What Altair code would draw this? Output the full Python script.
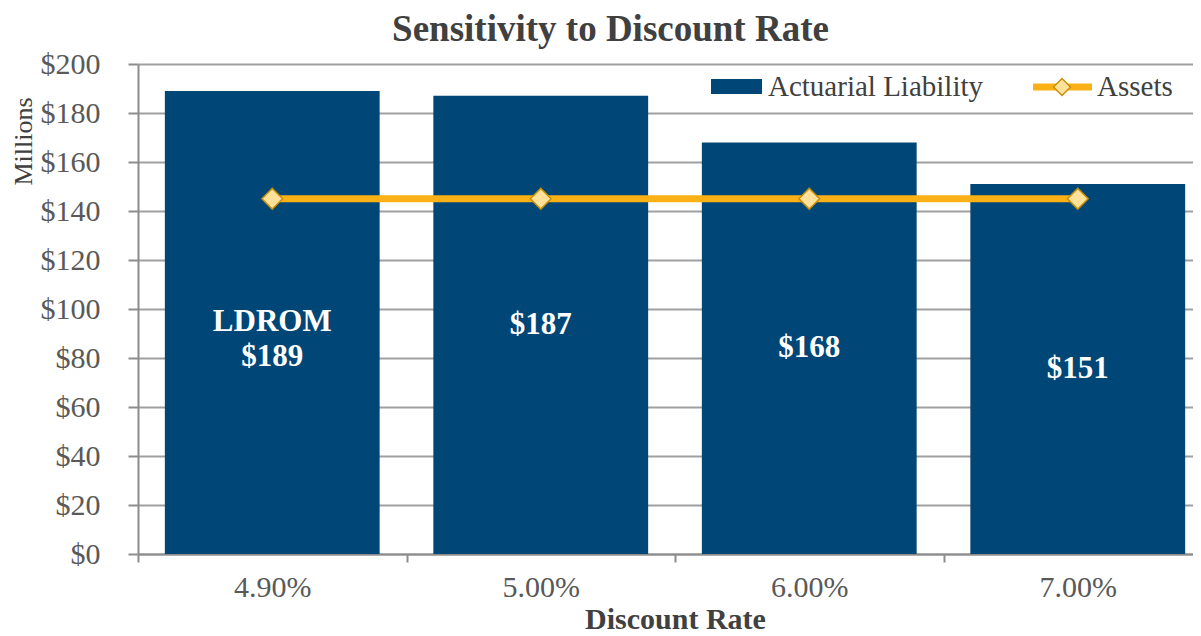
import altair as alt
import pandas as pd

# ---- data ----
rates = ["4.90%", "5.00%", "6.00%", "7.00%"]
liability = [189, 187, 168, 151]
assets = [145, 145, 145, 145]
bar_labels = ["LDROM\n$189", "$187", "$168", "$151"]
y_ticks = [0, 20, 40, 60, 80, 100, 120, 140, 160, 180, 200]
legend_names = ["Actuarial Liability", "Assets"]

FONT = "Liberation Serif"
BAR = "#004676"
GOLD = "#F9B116"
DIAMOND_FILL = "#FFE19A"
DIAMOND_STROKE = "#C8900A"
GRID = "#A0A0A0"
AXIS = "#8C8C8C"
LABEL = "#595959"
TITLE = "#404040"

df = pd.DataFrame({"rate": rates, "liability": liability, "assets": assets, "label": bar_labels})
one = pd.DataFrame({"k": [0]})

x_enc = alt.X(
    "rate:N",
    sort=rates,
    scale=alt.Scale(range=[0, 1074], paddingInner=0, paddingOuter=0),
    axis=alt.Axis(
        title="Discount Rate",
        labelAngle=0,
        labelFont=FONT,
        labelFontSize=30,
        labelColor=LABEL,
        labelPadding=10,
        tickBand="extent",
        tickSize=8,
        tickColor=AXIS,
        tickWidth=2,
        domainColor=AXIS,
        domainWidth=2,
        grid=False,
        titleFont=FONT,
        titleFontSize=30,
        titleFontWeight="bold",
        titleColor=TITLE,
        titleBaseline="alphabetic",
        titleY=74,
    ),
)

y_enc = alt.Y(
    "liability:Q",
    scale=alt.Scale(domain=[0, 200], nice=False),
    axis=alt.Axis(
        values=y_ticks,
        labelExpr="'$' + datum.value",
        labelFont=FONT,
        labelFontSize=30,
        labelColor=LABEL,
        labelPadding=28,
        tickSize=10,
        tickColor=AXIS,
        tickWidth=2,
        domainColor=AXIS,
        domainWidth=2,
        grid=True,
        gridColor=GRID,
        gridWidth=2,
        title="Millions",
        titleFont=FONT,
        titleFontSize=26,
        titleFontWeight="normal",
        titleColor=TITLE,
        titleAngle=270,
        titleAlign="center",
        titleBaseline="middle",
        titleX=-115,
        titleY=77,
    ),
)

base = alt.Chart(df)

bars = base.mark_bar(color=BAR, width=alt.RelativeBandSize(0.8)).encode(x=x_enc, y=y_enc)

line = base.mark_line(color=GOLD, strokeWidth=7).encode(x=alt.X("rate:N", sort=rates), y=alt.Y("assets:Q"))
points = base.mark_point(
    shape="diamond", size=430, fill=DIAMOND_FILL, stroke=DIAMOND_STROKE,
    strokeWidth=1.5, fillOpacity=1, opacity=1
).encode(x=alt.X("rate:N", sort=rates), y=alt.Y("assets:Q"))

labels = base.transform_calculate(mid="datum.liability / 2").mark_text(
    font=FONT, fontSize=31, fontWeight="bold", color="white",
    lineBreak="\n", lineHeight=35, baseline="middle", align="center"
).encode(x=alt.X("rate:N", sort=rates), y=alt.Y("mid:Q"), text="label:N")

# ---- legend (inside top right) ----
leg = alt.Chart(one)
leg_rect = leg.mark_rect(color=BAR).encode(
    x=alt.value(573), x2=alt.value(624), y=alt.value(15), y2=alt.value(30)
)
leg_text1 = leg.mark_text(
    font=FONT, fontSize=29, color=TITLE, align="left", baseline="alphabetic",
    text=legend_names[0]
).encode(x=alt.value(630), y=alt.value(32))
leg_line = leg.mark_rule(color=GOLD, strokeWidth=7).encode(
    x=alt.value(895), x2=alt.value(954), y=alt.value(23)
)
leg_pt = leg.mark_point(
    shape="diamond", size=290, fill=DIAMOND_FILL, stroke=DIAMOND_STROKE,
    strokeWidth=1.5, fillOpacity=1, opacity=1
).encode(x=alt.value(924), y=alt.value(23))
leg_text2 = leg.mark_text(
    font=FONT, fontSize=29, color=TITLE, align="left", baseline="alphabetic",
    text=legend_names[1]
).encode(x=alt.value(959), y=alt.value(32))

chart = alt.layer(
    bars, line, points, labels, leg_rect, leg_text1, leg_line, leg_pt, leg_text2
).properties(
    width=1055,
    height=490,
    padding={"left": 130, "top": 56, "right": 0, "bottom": 82},
    autosize=alt.AutoSizeParams(type="none"),
    title=alt.TitleParams(
        "Sensitivity to Discount Rate",
        font=FONT, fontSize=37, fontWeight="bold", color=TITLE,
        anchor="middle", frame="group", dx=-55, dy=39, offset=10, baseline="alphabetic",
    ),
).configure_view(stroke=None)

chart.save("out.html", embed_options={"renderer": "svg", "actions": False})
